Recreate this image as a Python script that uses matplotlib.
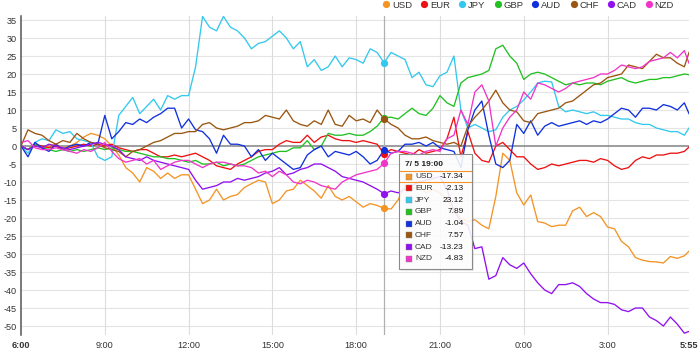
import numpy as np
import matplotlib
matplotlib.use("Agg")
import matplotlib.pyplot as plt
from matplotlib.lines import Line2D
from matplotlib.patches import Rectangle

# ---------------- data (hours after 6:00, 15-minute steps, last point 5:55) -------------
hours = list(np.arange(96) * 0.25) + [23 + 55 / 60]

currencies = ["USD", "EUR", "JPY", "GBP", "AUD", "CHF", "CAD", "NZD"]
colors = ["#f39425", "#ee1111", "#33c8ee", "#22c022", "#1030dd", "#9a5510", "#9010ee", "#f035c8"]

usd = [0, -1, 0.5, -0.5, 0, 0.5, -0.5, 0, 1, 2.5,
       3.5, 3, 2, 0, -2.5, -6, -7.5, -10, -6, -7,
       -9, -7.5, -9, -8, -8, -12, -16, -15, -12, -15,
       -14, -13.5, -11.5, -10.5, -9.5, -10, -16, -15, -12.5, -12,
       -9.5, -11, -12.5, -14.5, -11, -14, -15, -14, -15.5, -17,
       -16, -16.5, -17.34, -17.5, -15, -11, -12, -11, -13, -12,
       -13, -15, -18, -20, -21, -20.5, -22, -23, -14, -2,
       -4, -13, -16.4, -13.6, -21, -21.4, -22.4, -22, -22, -18,
       -17, -19.6, -18.5, -19.6, -22.5, -23, -26.5, -28, -31, -31.7,
       -32.1, -32.2, -32.5, -30.7, -31.2, -30.5, -29.2]
eur = [0, -1, 0.5, 0, -0.5, 0, -1, -0.5, 0, 0.5,
       0, 0.5, 0, 0.5, -0.5, -1, -1.5, -1, -1, -2,
       -3, -3, -2.5, -3, -2.5, -2, -3, -4, -5.5, -6,
       -6.5, -5, -4, -3, -1.5, -1, -1, 0.5, 1.5, 1,
       1, 3, 1, 2.5, 3, 2, 1.5, 1.5, 1, 1.5,
       1, 0.5, -2.13, -1, -1.5, -2, -2.5, -1, -2, -1.5,
       -1, 2, 8, -3, 4, -2, -4, -4.5, 0, 1,
       -1, -3, -3, -5, -6.5, -6, -5, -5.5, -5, -4.5,
       -4, -4, -4.5, -3.5, -4, -5.5, -6.5, -6, -4, -3,
       -3.5, -2.5, -2.5, -2, -2, -1.5, -0.3]
jpy = [0, -2, 1, 2, 1.5, 4.5, 3.5, 4, 2, 1.5,
       1, -3, -4, -3, 8.5, 11, 13.5, 9, 11, 13,
       10, 14, 13, 14, 14, 22, 36, 33, 32, 36,
       33, 32, 30, 27, 28.5, 29, 30.5, 32, 30, 27,
       29, 22, 24, 21, 22, 25, 22, 24.5, 24, 23,
       27, 26, 23.12, 26, 25, 24, 19, 20.5, 17, 16.5,
       19.5, 20.5, 25, 10, 5, 6, 5, 4, 4.5, 8,
       10, 11, 12.8, 15, 17.5, 18, 17.8, 11, 9.5, 10,
       9.5, 9, 9.5, 8.5, 8.5, 8, 7.5, 7.5, 6.5, 6,
       6, 5, 4.5, 4, 4, 3, 5]
gbp = [0, -1, 0.5, -0.5, -1, -1.5, -1, -1.5, -1, -1.5,
       -1, -0.5, -1, -0.5, -1, -1.5, -1.5, -2, -2.5, -3,
       -3, -3.5, -3.5, -4, -4.5, -4, -5, -5, -4.5, -5.5,
       -5, -5.5, -5, -4, -3, -2.5, -2, -1.5, -1.5, -0.5,
       -0.5, 1.5, -1, 0, 3.5, 3, 3, 3.5, 3, 3,
       4, 5.5, 7.89, 8, 7.5, 9, 10.5, 9, 8.5, 10.5,
       14, 12, 11, 17.5, 19, 19.5, 20, 21, 27, 28,
       25, 23, 18.5, 20, 20.5, 20, 19, 18, 17, 17.5,
       17, 17.5, 17.5, 17, 18, 18.5, 19, 18, 17.5, 18,
       18.5, 18.5, 19, 19, 19.5, 20, 19.8]
aud = [0, -3, 1, -0.5, -1.5, 0.5, -1, 0, 0.5, 0,
       1, 0.5, 8.5, 2, 4, 6.5, 6, 7.5, 6.5, 8,
       9, 10.5, 10.5, 5, 7.5, 4.5, 4, 2, -2, 3,
       0.5, 0.5, 0, -3, -1, -4, -2, -3.5, -5, -6.5,
       -6, -2.5, -1, 0, -3, -1.5, -2, -2.5, -1.5, -3,
       -5, -4, -1.04, -2, -1.5, 0.5, 0.5, 1, 0, 1,
       -0.5, -1, -1.5, -6, 4.5, 10, 12.5, 3, -5, -6,
       -4, 6, 3.5, 7, 3, 5.5, 6.5, 5.5, 6, 6.5,
       7, 6, 7, 6.5, 7.5, 9, 10.5, 10, 8, 10.5,
       10.5, 10, 11.5, 11, 10, 12, 9]
chf = [0, 4.5, 3.5, 3, 1.5, 0.5, 1.5, 1, 3.5, 2,
       1, 0.5, -0.5, -1, -1.5, -3, -1.5, -1, 0, 1,
       1.5, 2.5, 3.5, 3.5, 4, 4, 6, 6.5, 5, 4.5,
       5, 5.5, 6.5, 6.5, 7, 8.5, 8, 7.5, 10, 7,
       6, 5.5, 7, 6, 10, 6, 5.5, 8.5, 7, 7.5,
       6.5, 10, 7.57, 6, 5, 3, 2, 2, 2.5, 1.5,
       1, 0.5, 1, 0, 5.5, 8, 10, 12.5, 15.5, 12,
       10, 9.5, 7, 6.5, 9, 9.5, 10, 10.5, 12, 12.5,
       14, 15.5, 17, 17.5, 19, 19.5, 20, 22.5, 22, 21.5,
       23.5, 25.5, 24.5, 24.5, 23, 22, 26]
cad = [0, -1, 0, -0.5, 0.5, 0, -0.5, -1, -0.5, 0,
       0.5, 1, 0.5, 0, -1, -3, -3.5, -4, -3, -4,
       -4.5, -5, -5.5, -6, -6.5, -9.5, -12, -11.5, -11, -10,
       -10, -9, -9.5, -9, -8.5, -7.5, -7, -6, -8, -7.5,
       -6.5, -6, -5, -5, -6, -7, -8.5, -9, -9.5, -10,
       -11, -12, -13.23, -12.5, -13, -12, -11, -10, -9.5, -9,
       -8.5, -12, -18, -21, -22, -28.5, -28, -37, -36, -31,
       -33, -34, -32.5, -35.5, -38, -40, -41, -38.5, -38.5, -38,
       -39, -41, -42.5, -43.5, -43.5, -44, -45.5, -46, -45, -45,
       -47.5, -48.5, -50, -47.5, -49.5, -52, -51.5]
nzd = [1, 1.5, -0.5, -1, -1, -0.5, -1, -1.5, -2, -1,
       -1.5, -0.5, 1, -1.5, -3.5, -4.5, -4, -3.5, -5, -4,
       -6.5, -5.5, -4.5, -4, -4, -5, -6, -5, -4.5, -4.5,
       -5, -5.5, -5.5, -6, -7.5, -7, -8.5, -7, -8, -10,
       -10.5, -9.5, -10, -11, -11.5, -12, -10, -9, -8, -7.5,
       -7, -6.5, -4.83, -2, -1.5, -1.5, -2, -2.5, -1.5, -1,
       -1.5, 2, 3, 10, 6, 15, 17, 12.5, 0, 5,
       8, 10, 15, 13, 17.5, 17, 16, 15, 16, 17.5,
       18, 18.5, 19, 20, 20, 21, 22.5, 22, 21.5, 22,
       23.5, 24, 24.5, 26, 24.5, 26.5, 23]

series = [usd, eur, jpy, gbp, aud, chf, cad, nzd]

x_ticks = [0, 3, 6, 9, 12, 15, 18, 21, 23 + 55 / 60]
x_labels = ["6:00", "9:00", "12:00", "15:00", "18:00", "21:00", "0:00", "3:00", "5:55"]
y_ticks = list(range(-50, 36, 5))
hover_index = 52
hover_title = "7/ 5 19:00"

# ---------------- figure ----------------
W, H = 700, 354
fig = plt.figure(figsize=(W / 100, H / 100), dpi=100)
plt.rcParams["font.family"] = ["Liberation Sans", "DejaVu Sans"]


def fx(px):
    return px / W


def fy(py):
    return 1 - py / H


ax = fig.add_axes([fx(21), fy(335), (689 - 21) / W, (335 - 15.7) / H])
ax.set_xlim(0, 23 + 55 / 60)
ax.set_ylim(-52.5, 36.2)

for s in ["top", "right", "bottom"]:
    ax.spines[s].set_visible(False)
ax.spines["left"].set_color("#555555")
ax.spines["left"].set_linewidth(1.1)

ax.set_yticks(y_ticks)
ax.set_yticklabels([str(v) for v in y_ticks], fontsize=6.6, color="#333333")
ax.set_xticks(x_ticks)
ax.set_xticklabels(x_labels, fontsize=6.6, color="#333333")
for i, lab in enumerate(ax.get_xticklabels()):
    if i in (0, len(x_labels) - 1):
        lab.set_fontweight("bold")
ax.tick_params(axis="y", length=0, pad=3)
ax.tick_params(axis="x", length=0, pad=4)

for v in y_ticks:
    if v != 0:
        ax.axhline(v, color="#e4e4e4", lw=0.8, zorder=0)
for v in x_ticks[1:-1]:
    ax.axvline(v, color="#dcdcdc", lw=0.8, zorder=0)
ax.axhline(0, color="#8c8c8c", lw=1.2, zorder=1)

# hover crosshair
ax.axvline(hours[hover_index], color="#b0b0b0", lw=0.9, zorder=1)

for name, col, vals in zip(currencies, colors, series):
    ax.plot(hours, vals, color=col, lw=0.95, zorder=2, solid_joinstyle="round")
for name, col, vals in zip(currencies, colors, series):
    ax.plot([hours[hover_index]], [vals[hover_index]], "o", color=col,
            markersize=5.2, zorder=3, markeredgewidth=0)

# legend
handles = [Line2D([], [], marker="o", linestyle="", color=c, markersize=5.2,
                  markeredgewidth=0) for c in colors]
fig.legend(handles, currencies, ncol=8, loc="upper right",
           bbox_to_anchor=(fx(674), fy(0.5)), frameon=False, fontsize=6.8,
           handlelength=0.7, handletextpad=0.25, columnspacing=0.95,
           borderpad=0, borderaxespad=0, labelcolor="#333333")

# tooltip
x0, y0, x1, y1 = 399, 154, 472, 269
fig.add_artist(Rectangle((fx(x0 + 2), fy(y1 + 2)), (x1 - x0) / W, (y1 - y0) / H,
                         transform=fig.transFigure, facecolor="#000000", alpha=0.08,
                         edgecolor="none", zorder=9))
fig.add_artist(Rectangle((fx(x0), fy(y1)), (x1 - x0) / W, (y1 - y0) / H,
                         transform=fig.transFigure, facecolor=(1, 1, 1, 0.88),
                         edgecolor="#8a8a8a", lw=0.8, zorder=10))
fig.text(fx(405), fy(165), hover_title, fontsize=6, fontweight="bold",
         color="#222222", va="center", ha="left", zorder=11)
row0, dy = 176.7, 11.75
for k, (name, col, vals) in enumerate(zip(currencies, colors, series)):
    yy = row0 + k * dy
    fig.add_artist(Rectangle((fx(405.5), fy(yy + 3)), 6 / W, 6 / H,
                             transform=fig.transFigure, facecolor=col,
                             edgecolor="#888888", lw=0.3, zorder=11))
    fig.text(fx(415), fy(yy), name, fontsize=6, color="#333333",
             va="center", ha="left", zorder=11)
    fig.text(fx(463.5), fy(yy), f"{vals[hover_index]:.2f}", fontsize=6,
             color="#111111", va="center", ha="right", zorder=11)
# highlight of the hovered row (USD)
for yy in (170.8, 182.3):
    fig.add_artist(Line2D([fx(400), fx(471)], [fy(yy), fy(yy)],
                          transform=fig.transFigure, color=colors[0], lw=0.8, zorder=11))

fig.savefig("out.png", dpi=100)
